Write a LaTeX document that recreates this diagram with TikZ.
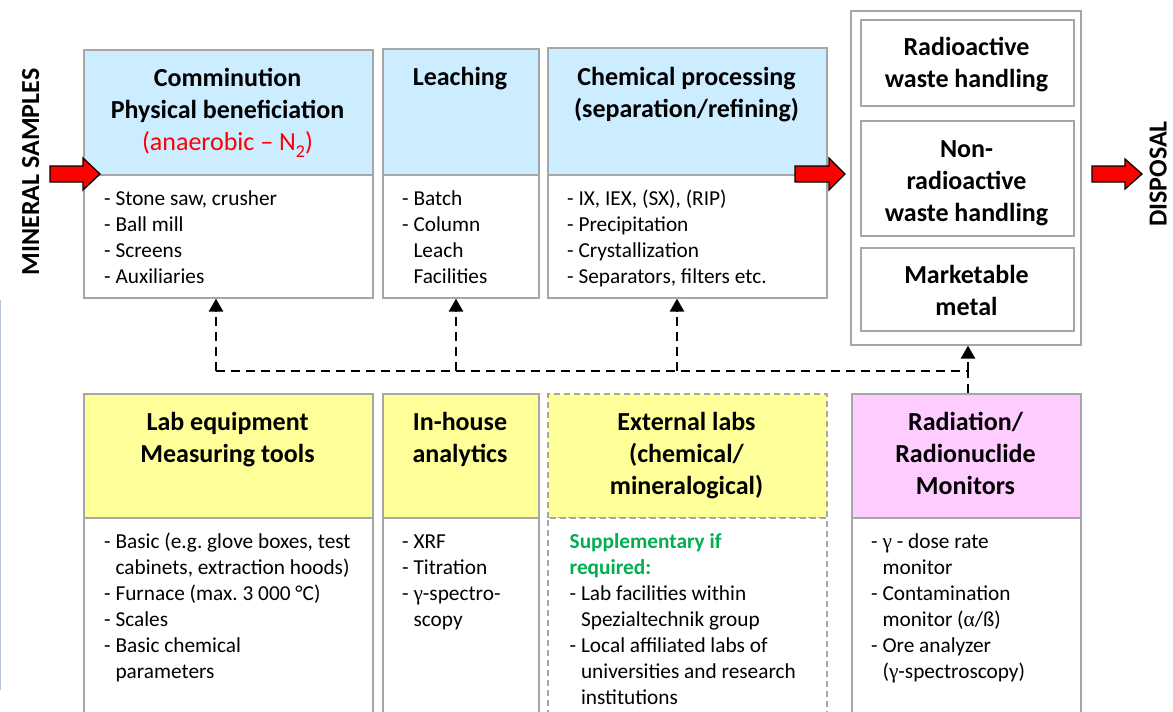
\documentclass[tikz,border=0pt]{standalone}
\usepackage{fontspec}
\setmainfont{Carlito}
\newfontfamily\grkfont{Liberation Serif}
\usetikzlibrary{arrows.meta}
\frenchspacing
\definecolor{bordergrey}{HTML}{A6A6A6}
\definecolor{hblue}{HTML}{CCECFF}
\definecolor{hyellow}{HTML}{FFFF99}
\definecolor{hpink}{HTML}{FFCCFF}
\definecolor{sgreen}{HTML}{00B050}
\definecolor{arrowred}{HTML}{FF0000}
\newcommand{\hgap}{\phantom{- }}
\newcommand{\gam}{{\grkfont γ}}
\newcommand{\alp}{{\grkfont α}}
\begin{document}
\begin{tikzpicture}[x=1pt,y=-1pt,
  boxbase/.style={draw=bordergrey, line width=1.6pt, inner sep=0pt, anchor=north west},
  dashbox/.style={boxbase, dashed, dash pattern=on 6pt off 4pt},
  htext/.style={font=\fontsize{26}{32}\selectfont\bfseries, align=center, anchor=north, inner sep=0pt},
  btext/.style={font=\fontsize{21.3}{26}\selectfont\frenchspacing, align=left, anchor=north west, inner sep=0pt},
  sidetext/.style={font=\fontsize{26}{32}\selectfont\bfseries, rotate=90, inner sep=0pt, text depth=0pt},
  blockarrow/.style={fill=arrowred, draw=black, line width=1.3pt, line join=miter},
  conn/.style={draw=black, line width=2.6pt, dash pattern=on 9pt off 6pt},
  connarrow/.style={conn, -{Triangle[length=13pt,width=14pt]}}
]
\useasboundingbox (0,0) rectangle (1173,712);
\fill[white] (0,0) rectangle (1173,712);
\draw[color={rgb,255:red,185;green,196;blue,212}, line width=1.2pt] (0.6,300) -- (0.6,690);

% ---------- top row ----------
\node[boxbase, fill=hblue, minimum width=289pt, minimum height=125pt] (commh) at (83,49) {};
\node[boxbase, fill=white, minimum width=289pt, minimum height=123pt] (commb) at (83,174) {};
\node[htext] (commt) at (227.5,63.6) {\strut Comminution\\Physical beneficiation\\{\mdseries\color{arrowred}(anaerobic – N\raisebox{-7pt}{\fontsize{18}{18}\selectfont 2})}};
\node[btext] (commi) at (104,186.8) {\strut- Stone saw, crusher\\- Ball mill\\- Screens\\- Auxiliaries};

\node[boxbase, fill=hblue, minimum width=156pt, minimum height=126pt] (leachh) at (382,48) {};
\node[boxbase, fill=white, minimum width=156pt, minimum height=123pt] (leachb) at (382,174) {};
\node[htext] (leacht) at (460,62.6) {\strut Leaching};
\node[btext] (leachi) at (402,187) {\strut- Batch\\- Column\\\hgap Leach\\\hgap Facilities};

\node[boxbase, fill=hblue, minimum width=279pt, minimum height=127pt] (chemh) at (547,47) {};
\node[boxbase, fill=white, minimum width=279pt, minimum height=123pt] (chemb) at (547,174) {};
\node[htext] (chemt) at (686.5,62.6) {\strut Chemical processing\\(separation/refining)};
\node[btext] (chemi) at (567,187) {\strut- IX, IEX, (SX), (RIP)\\- Precipitation\\- Crystallization\\- Separators, filters etc.};

% ---------- output column ----------
\node[boxbase, fill=white, minimum width=230pt, minimum height=334pt] (outer) at (850,10) {};
\node[boxbase, fill=white, minimum width=213pt, minimum height=86pt] (radw) at (860,19) {};
\node[boxbase, fill=white, minimum width=213pt, minimum height=115pt] (nonw) at (860,120) {};
\node[boxbase, fill=white, minimum width=213pt, minimum height=83pt] (metal) at (860,247) {};
\node[htext] (radwt) at (966.5,32.6) {\strut Radioactive\\waste handling};
\node[htext] (nonwt) at (966.5,134.6) {\strut Non-\\radioactive\\waste handling};
\node[htext] (metalt) at (966.5,260.6) {\strut Marketable\\metal};

% ---------- side labels and block arrows ----------
\node[sidetext] (minsam) at (30.5,172) {MINERAL SAMPLES};
\node[sidetext] (disp) at (1158,174) {DISPOSAL};
\draw[blockarrow] (50,166) -- (83,166) -- (83,158) -- (100,174) -- (83,190) -- (83,182) -- (50,182) -- cycle;
\draw[blockarrow] (795,166) -- (829,166) -- (829,158) -- (845,174) -- (829,190) -- (829,182) -- (795,182) -- cycle;
\draw[blockarrow] (1092,166) -- (1125,166) -- (1125,159) -- (1142,174) -- (1125,189) -- (1125,182) -- (1092,182) -- cycle;

% ---------- bottom row ----------
\node[boxbase, fill=hyellow, minimum width=289pt, minimum height=124pt] (labh) at (83,393) {};
\node[boxbase, fill=white, minimum width=289pt, minimum height=200pt] (labb) at (83,517) {};
\node[htext] (labt) at (227.5,407.6) {\strut Lab equipment\\Measuring tools};
\node[btext] (labi) at (104,530) {\strut- Basic (e.g. glove boxes, test\\\hgap cabinets, extraction hoods)\\- Furnace (max. 3 000 °C)\\- Scales\\- Basic chemical\\\hgap parameters};

\node[boxbase, fill=hyellow, minimum width=156pt, minimum height=124pt] (inh) at (382,393) {};
\node[boxbase, fill=white, minimum width=156pt, minimum height=200pt] (inb) at (382,517) {};
\node[htext] (int) at (460,407.6) {\strut In-house\\analytics};
\node[btext] (ini) at (402,530) {\strut- XRF\\- Titration\\- \gam-spectro-\\\hgap scopy};

\node[dashbox, fill=hyellow, minimum width=279pt, minimum height=124pt] (exth) at (547,393) {};
\node[dashbox, fill=white, minimum width=279pt, minimum height=200pt] (extb) at (547,517) {};
\node[htext] (extt) at (686.5,407.6) {\strut External labs\\(chemical/\\mineralogical)};
\node[btext] (exti) at (569.5,530) {\strut{\color{sgreen}\bfseries Supplementary if}\\{\color{sgreen}\bfseries required:}\\- Lab facilities within\\\hgap Spezialtechnik group\\- Local affiliated labs of\\\hgap universities and research\\\hgap institutions};

\node[boxbase, fill=hpink, minimum width=229pt, minimum height=124pt] (radh) at (851,393) {};
\node[boxbase, fill=white, minimum width=229pt, minimum height=200pt] (radb) at (851,517) {};
\node[htext] (radt) at (965.5,407.6) {\strut Radiation/\\Radionuclide\\Monitors};
\node[btext] (radi) at (871,530) {\strut- \gam{} - dose rate\\\hgap monitor\\- Contamination\\\hgap monitor (\alp/ß)\\- Ore analyzer\\\hgap (\gam-spectroscopy)};

% ---------- dashed connectors ----------
\coordinate (j) at (968,371);
\coordinate (c1) at (216,371);
\coordinate (c2) at (456,371);
\coordinate (c3) at (677,371);
\draw[conn] (j |- radh.north) -- (j) -- (c1);
\draw[connarrow] (j) -- (j |- outer.south);
\draw[connarrow] (c1) -- (c1 |- commb.south);
\draw[connarrow] (c2) -- (c2 |- leachb.south);
\draw[connarrow] (c3) -- (c3 |- chemb.south);
\end{tikzpicture}
\end{document}
